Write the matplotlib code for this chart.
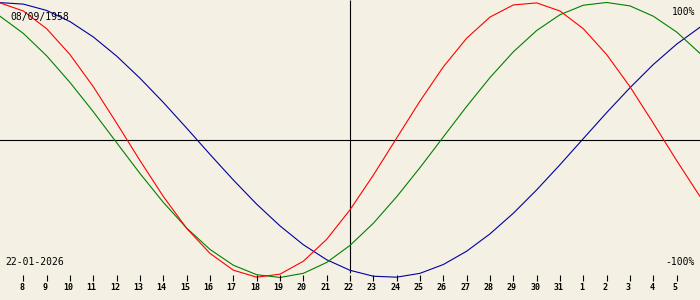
import matplotlib
matplotlib.use('Agg')
import matplotlib.pyplot as plt
import matplotlib.transforms as mtransforms

# day index 0 = 07 Jan, 30 = 06 Feb
days = list(range(31))
day_labels = ['8', '9', '10', '11', '12', '13', '14', '15', '16', '17', '18', '19',
              '20', '21', '22', '23', '24', '25', '26', '27', '28', '29', '30', '31',
              '1', '2', '3', '4', '5']
red = [0.997, 0.938, 0.809, 0.621, 0.387, 0.122, -0.150, -0.411, -0.643, -0.825,
       -0.947, -0.998, -0.976, -0.882, -0.723, -0.508, -0.256, 0.014, 0.283, 0.532,
       0.740, 0.894, 0.982, 0.997, 0.938, 0.809, 0.621, 0.387, 0.122, -0.150, -0.411]
green = [0.900, 0.775, 0.612, 0.418, 0.205, -0.020, -0.244, -0.454, -0.641, -0.796,
         -0.911, -0.980, -1.000, -0.970, -0.891, -0.767, -0.606, -0.413, -0.201, 0.022,
         0.244, 0.454, 0.641, 0.796, 0.911, 0.980, 1.000, 0.975, 0.900, 0.785, 0.630]
blue = [0.999, 0.988, 0.942, 0.861, 0.749, 0.610, 0.449, 0.273, 0.086, -0.105,
        -0.291, -0.467, -0.625, -0.762, -0.871, -0.948, -0.991, -0.998, -0.970, -0.906,
        -0.809, -0.683, -0.533, -0.363, -0.180, 0.010, 0.199, 0.380, 0.549, 0.697, 0.820]
today = 15
birth = '08/09/1958'
date = '22-01-2026'

bg = '#f4f0e4'
fig = plt.figure(figsize=(7, 3), dpi=100, facecolor=bg)
ax = fig.add_axes([0, 0, 1, 1], facecolor=bg)
ax.set_xlim(0, 30)
ax.set_ylim(-1.164, 1.018)
ax.axis('off')

trans = mtransforms.blended_transform_factory(ax.transData, ax.transAxes)
ax.axhline(0, color='black', lw=0.8)
ax.vlines(today, 0.09, 1, color='black', lw=0.8, transform=trans)

ax.plot(days, blue, color='#0000a0', lw=0.8)
ax.plot(days, green, color='#008000', lw=0.8)
ax.plot(days, red, color='#ff0000', lw=0.8)

ticks = days[1:30]
ax.vlines(ticks, 0.063, 0.083, color='black', lw=0.8, transform=trans)
for t, lab in zip(ticks, day_labels):
    ax.text(t - 0.07, 0.04, lab, transform=trans, ha='center', va='center',
            fontsize=6, family='DejaVu Sans Mono', weight='bold')

fnt = dict(fontsize=7, family='DejaVu Sans Mono', color='black', va='center')
ax.text(10 / 700, 1 - 17 / 300, birth, transform=ax.transAxes, ha='left', **fnt)
ax.text(5 / 700, 1 - 262 / 300, date, transform=ax.transAxes, ha='left', **fnt)
ax.text(695 / 700, 1 - 12 / 300, '100%', transform=ax.transAxes, ha='right', **fnt)
ax.text(695 / 700, 1 - 262 / 300, '-100%', transform=ax.transAxes, ha='right', **fnt)

fig.savefig('out.png', dpi=100, facecolor=bg)
